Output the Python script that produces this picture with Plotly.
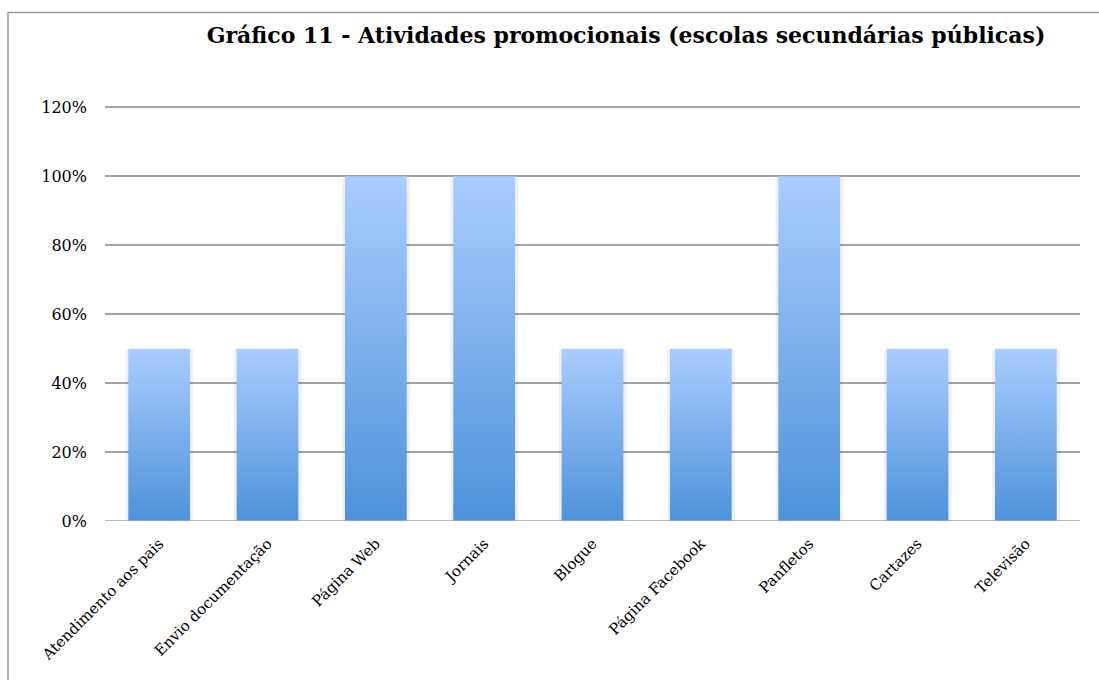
import plotly.graph_objects as go

# Promotional activities reported by public secondary schools
categories = [
    "Atendimento aos pais",
    "Envio documentação",
    "Página Web",
    "Jornais",
    "Blogue",
    "Página Facebook",
    "Panfletos",
    "Cartazes",
    "Televisão",
]
shares = [0.5, 0.5, 1.0, 1.0, 0.5, 0.5, 1.0, 0.5, 0.5]

y_ticks = [0, 0.2, 0.4, 0.6, 0.8, 1.0, 1.2]
y_tick_labels = ["0%", "20%", "40%", "60%", "80%", "100%", "120%"]

TITLE = "Gráfico 11 - Atividades promocionais (escolas secundárias públicas)"

FONT = "DejaVu Serif"
BAR_HALF = 0.285
TOP_COLOR = "#a9cdff"
BOTTOM_COLOR = "#4d92da"
Y_MAX = 1.21  # a little headroom so the 120% gridline is drawn

fig = go.Figure()

# Each bar is a filled polygon so it can carry its own vertical gradient
for i, v in enumerate(shares):
    # soft drop shadow around the bar
    fig.add_trace(go.Scatter(
        x=[i - BAR_HALF - 0.025, i + BAR_HALF + 0.03, i + BAR_HALF + 0.03, i - BAR_HALF - 0.025, i - BAR_HALF - 0.025],
        y=[0, 0, v - 0.004, v - 0.004, 0],
        mode="lines", line=dict(width=0),
        fill="toself", fillcolor="rgba(0,0,0,0.06)",
        hoverinfo="skip", showlegend=False,
    ))
    fig.add_trace(go.Scatter(
        x=[i - BAR_HALF, i + BAR_HALF, i + BAR_HALF, i - BAR_HALF, i - BAR_HALF],
        y=[0, 0, v, v, 0],
        mode="lines", line=dict(width=0),
        fill="toself",
        fillgradient=dict(
            type="vertical",
            colorscale=[[0, BOTTOM_COLOR], [1, TOP_COLOR]],
        ),
        name=categories[i],
        hovertemplate="%{text}<extra></extra>",
        text=[f"{categories[i]}: {v:.0%}"] * 5,
        showlegend=False,
    ))

W, H = 1099, 680
ML, MR, MB = 105, 19, 159
# top margin chosen so that 120% sits 414 px above the 0% baseline
MT = (H - MB) - 414 * Y_MAX / 1.2
plot_w = W - ML - MR
plot_h = H - MT - MB

fig.update_layout(
    width=W, height=H,
    margin=dict(l=ML, r=MR, t=MT, b=MB),
    paper_bgcolor="white",
    plot_bgcolor="white",
    font=dict(family=FONT, color="#000000", size=14),
    title=dict(
        text=f"<b>{TITLE}</b>",
        font=dict(family=FONT, size=22, color="#000000"),
        x=626 / W, xanchor="center",
        y=1 - 35 / H, yanchor="middle",
    ),
    xaxis=dict(
        range=[-0.5, len(categories) - 0.5],
        tickmode="array",
        tickvals=list(range(len(categories))),
        ticktext=categories,
        tickangle=-45,
        showgrid=False,
        zeroline=False,
        showline=False,
        ticks="",
        ticklabelstandoff=10,
        tickfont=dict(family=FONT, size=15),
        fixedrange=True,
    ),
    yaxis=dict(
        range=[0, Y_MAX],
        tickmode="array",
        tickvals=y_ticks,
        ticktext=y_tick_labels,
        showgrid=True,
        gridcolor="#a3a3a3",
        gridwidth=1.5,
        zeroline=False,
        showline=False,
        ticks="",
        ticklabelstandoff=17,
        tickfont=dict(family=FONT, size=16),
        fixedrange=True,
    ),
    shapes=[
        # baseline at 0%
        dict(type="line", xref="paper", yref="y", x0=0, x1=1, y0=0, y1=0,
             line=dict(color="#a3a3a3", width=1.5), layer="above"),
        # outer chart frame
        dict(type="rect", xref="paper", yref="paper",
             x0=(8 - ML) / plot_w, x1=1.2,
             y0=-0.6, y1=(H - MB - 12) / plot_h,
             line=dict(color="#9a9a9a", width=1.5), layer="below"),
    ],
)

fig.write_html("out.html")
